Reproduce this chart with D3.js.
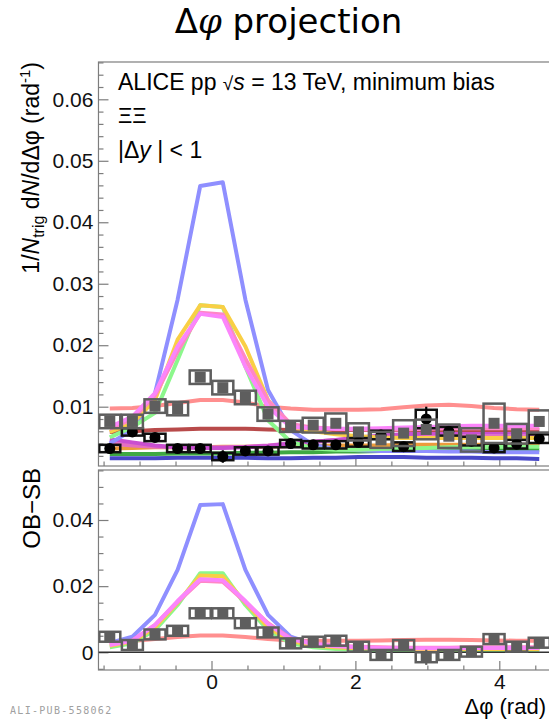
<!DOCTYPE html>
<html>
<head>
<meta charset="utf-8">
<script src="https://cdn.jsdelivr.net/npm/d3@7"></script>
<style>
  html, body { margin: 0; padding: 0; background: #fff; }
  svg { display: block; }
</style>
</head>
<body>
<svg id="chart" width="549" height="719"></svg>
<script>
// Δφ bin centres (20 bins from -π/2 to 3π/2) and bin width, in rad
const binCenters = [-1.4137, -1.0996, -0.7854, -0.4712, -0.1571, 0.1571, 0.4712, 0.7854, 1.0996, 1.4137,
                    1.7279, 2.0420, 2.3562, 2.6704, 2.9845, 3.2987, 3.6128, 3.9270, 4.2412, 4.5553];
const binWidth = 0.3142;

// Tick values
const topYTicks = [0.01, 0.02, 0.03, 0.04, 0.05, 0.06];
const topYTickLabels = ["0.01", "0.02", "0.03", "0.04", "0.05", "0.06"];
const botYTicks = [0, 0.02, 0.04];
const botYTickLabels = ["0", "0.02", "0.04"];
const xTicks = [0, 2, 4];
const xTickLabels = ["0", "2", "4"];

// Data: opposite-baryon (OB) correlation, gray squares
const obValues = [0.0076, 0.0076, 0.0101, 0.0097, 0.0148, 0.0131, 0.0115, 0.0088, 0.0068, 0.0070,
                  0.0073, 0.0059, 0.0046, 0.0057, 0.0063, 0.0052, 0.0046, 0.0073, 0.0056, 0.0076];
const obStat = [0.0005, 0.0005, 0.0005, 0.0005, 0.0006, 0.0005, 0.0006, 0.0005, 0.0004, 0.0004,
                0.0004, 0.0005, 0.0005, 0.0005, 0.0005, 0.0005, 0.0005, 0.0006, 0.0005, 0.0006];
const obSyst = [0.0011, 0.0011, 0.0011, 0.0011, 0.0011, 0.0011, 0.0011, 0.0011, 0.0009, 0.0012,
                0.0016, 0.0014, 0.0013, 0.0021, 0.0016, 0.0019, 0.0019, 0.0032, 0.0016, 0.0018];

// Data: same-baryon (SB) correlation, black circles
const sbValues = [0.0032, 0.0059, 0.0050, 0.0032, 0.0032, 0.0019, 0.0028, 0.0028, 0.0040, 0.0038,
                  0.0038, 0.0042, 0.0054, 0.0035, 0.0080, 0.0060, 0.0044, 0.0033, 0.0039, 0.0048];
const sbStat = [0.0004, 0.0006, 0.0005, 0.0004, 0.0004, 0.0010, 0.0005, 0.0004, 0.0004, 0.0004,
                0.0004, 0.0005, 0.0005, 0.0005, 0.0020, 0.0006, 0.0005, 0.0005, 0.0005, 0.0005];
const sbSyst = [0.0006, 0.0006, 0.0006, 0.0006, 0.0006, 0.0006, 0.0006, 0.0006, 0.0006, 0.0006,
                0.0006, 0.0007, 0.0007, 0.0007, 0.0015, 0.0007, 0.0007, 0.0007, 0.0007, 0.0007];

// Data: OB − SB, gray squares
const diffValues = [0.0047, 0.0022, 0.0054, 0.0065, 0.0118, 0.0118, 0.0088, 0.0060, 0.0027, 0.0032,
                    0.0035, 0.0017, -0.0008, 0.0022, -0.0015, -0.0008, 0.0002, 0.0040, 0.0017, 0.0029];
const diffStat = [0.0008, 0.0009, 0.0008, 0.0008, 0.0009, 0.0009, 0.0008, 0.0008, 0.0008, 0.0008,
                  0.0008, 0.0009, 0.0009, 0.0009, 0.0023, 0.0010, 0.0009, 0.0009, 0.0009, 0.0009];
const diffSyst = [0.0015, 0.0015, 0.0015, 0.0015, 0.0015, 0.0015, 0.0015, 0.0015, 0.0015, 0.0015,
                  0.0015, 0.0015, 0.0015, 0.0015, 0.0015, 0.0015, 0.0015, 0.0015, 0.0015, 0.0015];

// Model curves, upper panel (OB and SB)
const blueOB = [0.0040, 0.0062, 0.0122, 0.0274, 0.0459, 0.0465, 0.0274, 0.0127, 0.0062, 0.0038,
                0.0031, 0.0029, 0.0028, 0.0028, 0.0028, 0.0027, 0.0027, 0.0026, 0.0026, 0.0026];
const blueSB = [0.0016, 0.0016, 0.0016, 0.0017, 0.0017, 0.0017, 0.0017, 0.0016, 0.0016, 0.0017,
                0.0017, 0.0018, 0.0018, 0.0018, 0.0017, 0.0017, 0.0017, 0.0016, 0.0016, 0.0015];
const yellowOB = [0.0059, 0.0073, 0.0111, 0.0209, 0.0265, 0.0262, 0.0198, 0.0111, 0.0067, 0.0060,
                  0.0055, 0.0052, 0.0050, 0.0049, 0.0049, 0.0049, 0.0049, 0.0049, 0.0049, 0.0049];
const orangeSB = [0.0032, 0.0033, 0.0034, 0.0034, 0.0034, 0.0035, 0.0035, 0.0035, 0.0036, 0.0036,
                  0.0037, 0.0037, 0.0037, 0.0038, 0.0038, 0.0038, 0.0038, 0.0038, 0.0038, 0.0038];
const greenOB = [0.0050, 0.0067, 0.0090, 0.0176, 0.0265, 0.0262, 0.0165, 0.0078, 0.0043, 0.0032,
                 0.0030, 0.0030, 0.0031, 0.0032, 0.0033, 0.0034, 0.0035, 0.0035, 0.0035, 0.0035];
const greenSB = [0.0023, 0.0023, 0.0023, 0.0024, 0.0024, 0.0024, 0.0025, 0.0025, 0.0026, 0.0026,
                 0.0027, 0.0027, 0.0028, 0.0028, 0.0028, 0.0029, 0.0029, 0.0029, 0.0030, 0.0030];
const magentaOB = [0.0067, 0.0084, 0.0122, 0.0198, 0.0251, 0.0246, 0.0165, 0.0100, 0.0067, 0.0065,
                   0.0064, 0.0064, 0.0065, 0.0066, 0.0067, 0.0068, 0.0069, 0.0069, 0.0069, 0.0069];
const magentaSB = [0.0047, 0.0042, 0.0037, 0.0034, 0.0033, 0.0033, 0.0034, 0.0036, 0.0040, 0.0043,
                   0.0046, 0.0050, 0.0053, 0.0055, 0.0057, 0.0058, 0.0058, 0.0058, 0.0058, 0.0058];
const pinkOB = [0.0064, 0.0080, 0.0118, 0.0190, 0.0253, 0.0250, 0.0178, 0.0110, 0.0072, 0.0066,
                0.0064, 0.0063, 0.0063, 0.0063, 0.0064, 0.0065, 0.0065, 0.0065, 0.0065, 0.0065];
const pinkSB = [0.0040, 0.0037, 0.0035, 0.0034, 0.0034, 0.0034, 0.0035, 0.0037, 0.0040, 0.0043,
                0.0046, 0.0048, 0.0050, 0.0051, 0.0052, 0.0052, 0.0052, 0.0052, 0.0052, 0.0052];
const salmonOB = [0.0097, 0.0098, 0.0101, 0.0106, 0.0111, 0.0111, 0.0107, 0.0100, 0.0097, 0.0095,
                  0.0095, 0.0095, 0.0096, 0.0099, 0.0102, 0.0103, 0.0101, 0.0098, 0.0096, 0.0095];
const darkRedSB = [0.0059, 0.0060, 0.0062, 0.0063, 0.0064, 0.0064, 0.0064, 0.0063, 0.0062, 0.0062,
                   0.0062, 0.0062, 0.0062, 0.0062, 0.0062, 0.0062, 0.0062, 0.0062, 0.0062, 0.0062];

// Model curves, lower panel (OB − SB)
const blueDiff = [0.0028, 0.0047, 0.0113, 0.0249, 0.0445, 0.0448, 0.0249, 0.0113, 0.0047, 0.0025,
                  0.0015, 0.0012, 0.0010, 0.0010, 0.0010, 0.0010, 0.0010, 0.0010, 0.0010, 0.0011];
const yellowDiff = [0.0020, 0.0032, 0.0075, 0.0150, 0.0232, 0.0230, 0.0150, 0.0075, 0.0035, 0.0020,
                    0.0015, 0.0012, 0.0010, 0.0010, 0.0009, 0.0009, 0.0010, 0.0010, 0.0010, 0.0010];
const greenDiff = [0.0015, 0.0027, 0.0067, 0.0143, 0.0239, 0.0239, 0.0143, 0.0067, 0.0027, 0.0015,
                   0.0010, 0.0008, 0.0006, 0.0005, 0.0004, 0.0004, 0.0005, 0.0006, 0.0007, 0.0008];
const magentaDiff = [0.0022, 0.0035, 0.0082, 0.0155, 0.0221, 0.0218, 0.0155, 0.0085, 0.0040, 0.0025,
                     0.0018, 0.0015, 0.0013, 0.0012, 0.0012, 0.0012, 0.0013, 0.0013, 0.0013, 0.0013];
const pinkDiff = [0.0025, 0.0036, 0.0083, 0.0152, 0.0216, 0.0213, 0.0152, 0.0088, 0.0042, 0.0028,
                  0.0020, 0.0017, 0.0015, 0.0014, 0.0014, 0.0014, 0.0015, 0.0015, 0.0015, 0.0015];
const salmonDiff = [0.0030, 0.0034, 0.0040, 0.0046, 0.0051, 0.0051, 0.0046, 0.0040, 0.0036, 0.0035,
                    0.0035, 0.0035, 0.0036, 0.0037, 0.0038, 0.0038, 0.0037, 0.0036, 0.0035, 0.0035];

// ---------------------------------------------------------------
const svg = d3.select("#chart");
const FONT = "'Liberation Sans', Arial, Helvetica, sans-serif";
const FRAME = "#7d7d7d";

const x = d3.scaleLinear().domain([0, 4]).range([211.5, 499.3]);
const xLeft = x(-Math.PI / 2), xRight = x(3 * Math.PI / 2);

const padTop = { y0: 62, y1: 466 };
const padBot = { y0: 470, y1: 670 };
const yTop = d3.scaleLinear().domain([0.01, 0.06]).range([406.7, 99.3]);
const yBot = d3.scaleLinear().domain([0, 0.04]).range([652.3, 520]);

// clip paths for both pads
const defs = svg.append("defs");
defs.append("clipPath").attr("id", "clipTop").append("rect")
  .attr("x", xLeft).attr("y", padTop.y0).attr("width", xRight - xLeft).attr("height", padTop.y1 - padTop.y0);
defs.append("clipPath").attr("id", "clipBot").append("rect")
  .attr("x", xLeft).attr("y", padBot.y0).attr("width", xRight - xLeft).attr("height", padBot.y1 - padBot.y0);

function minorRange(a, b, step) {
  const out = [];
  for (let v = a; v <= b + 1e-9; v += step) out.push(+v.toFixed(6));
  return out;
}

function drawPad(pad, y, yTicks, yLabels, yMinorStep, showXLabels, clipId) {
  const g = svg.append("g");
  // frame
  g.append("rect").attr("x", xLeft).attr("y", pad.y0)
    .attr("width", xRight - xLeft).attr("height", pad.y1 - pad.y0)
    .attr("fill", "none").attr("stroke", FRAME).attr("stroke-width", 1.2);

  // y minor ticks
  const yDom = [y.invert(pad.y1), y.invert(pad.y0)];
  const minors = minorRange(Math.ceil(yDom[0] / yMinorStep) * yMinorStep, yDom[1], yMinorStep)
    .filter(v => !yTicks.some(t => Math.abs(t - v) < 1e-9));
  const yMinorAxis = d3.axisLeft(y).tickValues(minors).tickSize(-5).tickFormat("");
  const ym = g.append("g").attr("transform", `translate(${xLeft},0)`).call(yMinorAxis);
  // y major ticks with labels
  const yAxis = d3.axisLeft(y).tickValues(yTicks).tickSize(-10).tickPadding(5)
    .tickFormat((d, i) => yLabels[i]);
  const ya = g.append("g").attr("transform", `translate(${xLeft},0)`).call(yAxis);
  [ym, ya].forEach(a => {
    a.select(".domain").remove();
    a.selectAll("line").attr("stroke", FRAME).attr("stroke-width", 1.2);
    a.selectAll("text").attr("font-family", FONT).attr("font-size", 21).attr("fill", "#111");
  });

  // x minor ticks
  const xMinor = [-1.5, -1, -0.5, 0.5, 1, 1.5, 2.5, 3, 3.5, 4.5];
  const xm = g.append("g").attr("transform", `translate(0,${pad.y1})`)
    .call(d3.axisBottom(x).tickValues(xMinor).tickSize(-4.5).tickFormat(""));
  const xa = g.append("g").attr("transform", `translate(0,${pad.y1})`)
    .call(d3.axisBottom(x).tickValues(xTicks).tickSize(-9).tickPadding(4)
      .tickFormat((d, i) => showXLabels ? xTickLabels[i] : ""));
  [xm, xa].forEach(a => {
    a.select(".domain").remove();
    a.selectAll("line").attr("stroke", FRAME).attr("stroke-width", 1.2);
    a.selectAll("text").attr("font-family", FONT).attr("font-size", 21).attr("fill", "#111");
  });

  return svg.append("g").attr("clip-path", `url(#${clipId})`);
}

function drawCurve(layer, y, values, color, width) {
  const line = d3.line().x((d, i) => x(binCenters[i])).y(d => y(d));
  layer.append("path").datum(values)
    .attr("d", line).attr("fill", "none")
    .attr("stroke", color).attr("stroke-width", width || 4)
    .attr("stroke-linejoin", "round");
}

function drawData(layer, y, values, stat, syst, style) {
  const g = layer.append("g");
  const hw = x(binWidth / 2) - x(0);
  values.forEach((v, i) => {
    const cx = x(binCenters[i]);
    // systematic box
    g.append("rect")
      .attr("x", cx - hw + 0.8).attr("width", 2 * hw - 1.6)
      .attr("y", y(v + syst[i])).attr("height", y(v - syst[i]) - y(v + syst[i]))
      .attr("fill", "none").attr("stroke", style.box).attr("stroke-width", 2.5);
  });
  values.forEach((v, i) => {
    const cx = x(binCenters[i]);
    // statistical error bar
    g.append("line").attr("x1", cx).attr("x2", cx)
      .attr("y1", y(v + stat[i])).attr("y2", y(v - stat[i]))
      .attr("stroke", style.marker).attr("stroke-width", 2.2);
    if (style.shape === "square") {
      g.append("rect").attr("x", cx - style.size / 2).attr("y", y(v) - style.size / 2)
        .attr("width", style.size).attr("height", style.size).attr("fill", style.marker);
    } else {
      g.append("circle").attr("cx", cx).attr("cy", y(v)).attr("r", style.size / 2)
        .attr("fill", style.marker);
    }
  });
}

// ---------------- upper pad ----------------
const topLayer = drawPad(padTop, yTop, topYTicks, topYTickLabels, 0.002, false, "clipTop");
drawCurve(topLayer, yTop, blueSB, "#4747c8");
drawCurve(topLayer, yTop, greenSB, "#3fa843");
drawCurve(topLayer, yTop, orangeSB, "#ec9b3c");
drawCurve(topLayer, yTop, pinkSB, "#e46fc0");
drawCurve(topLayer, yTop, magentaSB, "#c94fd0");
drawCurve(topLayer, yTop, darkRedSB, "#b84a4a");
drawCurve(topLayer, yTop, salmonOB, "#ff8f8f");
drawCurve(topLayer, yTop, blueOB, "#8f8fff");
drawCurve(topLayer, yTop, greenOB, "#8cf78c");
drawCurve(topLayer, yTop, yellowOB, "#f9cf45");
drawCurve(topLayer, yTop, pinkOB, "#ff86c6");
drawCurve(topLayer, yTop, magentaOB, "#fb85fb");
drawData(topLayer, yTop, sbValues, sbStat, sbSyst, { box: "#111", marker: "#000", shape: "circle", size: 11 });
drawData(topLayer, yTop, obValues, obStat, obSyst, { box: "#5e5e5e", marker: "#5e5e5e", shape: "square", size: 11 });

// ---------------- lower pad ----------------
const botLayer = drawPad(padBot, yBot, botYTicks, botYTickLabels, 0.005, true, "clipBot");
drawCurve(botLayer, yBot, salmonDiff, "#ff8f8f");
drawCurve(botLayer, yBot, blueDiff, "#8f8fff");
drawCurve(botLayer, yBot, greenDiff, "#8cf78c");
drawCurve(botLayer, yBot, yellowDiff, "#f9cf45");
drawCurve(botLayer, yBot, pinkDiff, "#ff86c6");
drawCurve(botLayer, yBot, magentaDiff, "#fb85fb");
botLayer.append("line").attr("x1", xLeft).attr("x2", xRight)
  .attr("y1", yBot(0)).attr("y2", yBot(0)).attr("stroke", "#333").attr("stroke-width", 1.5);
drawData(botLayer, yBot, diffValues, diffStat, diffSyst, { box: "#5e5e5e", marker: "#5e5e5e", shape: "square", size: 11 });

// ---------------- texts ----------------
// title
const title = svg.append("text").attr("x", 288.5).attr("y", 33).attr("text-anchor", "middle")
  .attr("font-family", "'DejaVu Sans', Verdana, sans-serif").attr("font-size", 34).attr("fill", "#000");
title.append("tspan").text("Δ");
title.append("tspan").attr("font-family", "'DejaVu Serif', 'Liberation Serif', serif").attr("font-style", "italic").text("φ");
title.append("tspan").text(" projection");

// legend block
const leg = svg.append("g").attr("font-family", FONT).attr("font-size", 23).attr("fill", "#000");
const l1 = leg.append("text").attr("x", 118).attr("y", 90);
l1.append("tspan").text("ALICE pp ");
l1.append("tspan").attr("font-size", 19).text("√");
l1.append("tspan").attr("font-style", "italic").text("s");
l1.append("tspan").text(" = 13 TeV, minimum bias");
leg.append("text").attr("x", 118).attr("y", 123).attr("font-size", 22).text("ΞΞ");
const l3 = leg.append("text").attr("x", 118).attr("y", 158);
l3.append("tspan").text("|Δ");
l3.append("tspan").attr("font-style", "italic").text("y");
l3.append("tspan").text(" | < 1");

// y title, upper pad
const yt = svg.append("text").attr("transform", "translate(39,62) rotate(-90)")
  .attr("text-anchor", "end").attr("font-family", FONT).attr("font-size", 23).attr("fill", "#000");
yt.append("tspan").text("1/");
yt.append("tspan").attr("font-style", "italic").text("N");
yt.append("tspan").attr("font-size", 16).attr("dy", 5).text("trig");
yt.append("tspan").attr("dy", -5).text(" d");
yt.append("tspan").attr("font-style", "italic").text("N");
yt.append("tspan").text("/dΔφ (rad");
yt.append("tspan").attr("font-size", 15).attr("dy", -9).text("-1");
yt.append("tspan").attr("dy", 9).text(")");

// y title, lower pad
svg.append("text").attr("transform", "translate(40,468) rotate(-90)")
  .attr("text-anchor", "end").attr("font-family", FONT).attr("font-size", 24).attr("fill", "#000")
  .text("OB−SB");

// x title
svg.append("text").attr("x", 546).attr("y", 714).attr("text-anchor", "end")
  .attr("font-family", FONT).attr("font-size", 22).attr("fill", "#000").text("Δφ (rad)");

// publication id
svg.append("text").attr("x", 10).attr("y", 714)
  .attr("font-family", "'DejaVu Sans Mono', monospace").attr("font-size", 10)
  .attr("letter-spacing", 1.3).attr("fill", "#a0a0a0").text("ALI-PUB-558062");
</script>
</body>
</html>
